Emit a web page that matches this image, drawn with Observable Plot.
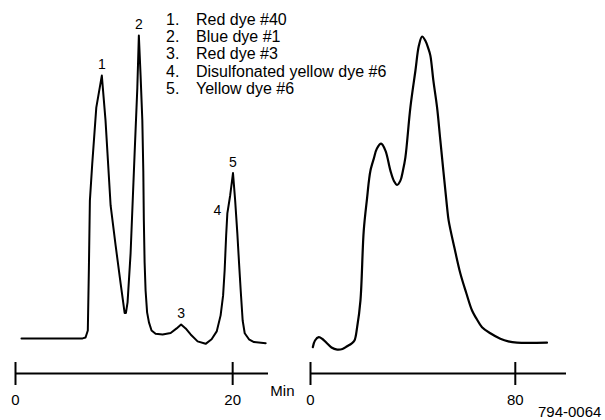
<!DOCTYPE html>
<html>
<head>
<meta charset="utf-8">
<script src="https://cdn.jsdelivr.net/npm/d3@7"></script>
<script src="https://cdn.jsdelivr.net/npm/@observablehq/plot@0.6"></script>
<style>
  html, body { margin: 0; padding: 0; background: #fff; }
  #wrap { position: relative; width: 605px; height: 420px; overflow: hidden; font-family: "Liberation Sans", Arial, sans-serif; color: #000; }
  #left, #right { position: absolute; top: 0; }
  #left { left: 0; }
  #right { left: 300px; }
  #legend { position: absolute; left: 166px; top: 10.7px; font-size: 16px; line-height: 17.3px; }
  #legend .row { display: flex; white-space: nowrap; }
  #legend .num { width: 30px; }
  #caption { position: absolute; left: 538px; top: 404px; font-size: 15px; line-height: 1; white-space: nowrap; }
</style>
</head>
<body>
<div id="wrap">
  <div id="left"></div>
  <div id="right"></div>
  <div id="legend"></div>
  <div id="caption"></div>
</div>
<script>
// ---- Data ----
// Left chromatogram (time in min, relative response, peak 2 = 100)
const leftTime = [0.55, 6.18, 6.45, 6.66, 6.76, 6.85, 7.07, 7.44, 7.95, 8.29, 8.76, 9.22, 9.68, 10.05, 10.17, 10.32, 10.6, 10.97, 11.22, 11.36,
  11.52, 11.68, 11.77, 11.82, 11.89, 11.98, 12.12, 12.29, 12.53, 12.9, 13.55, 14.29, 14.84, 15.25, 15.67, 16.13, 16.77, 17.51, 18.06, 18.53,
  18.89, 19.12, 19.26, 19.4, 19.51, 19.77, 20.03, 20.23, 20.43, 20.6, 20.74, 20.92, 21.11, 21.5, 21.96, 23.04];
const leftSignal = [0, 0, 0.3, 2.6, 23.4, 45.5, 57.8, 76.2, 86.8, 72, 43.9, 30.7, 18.2, 8.4, 8.4, 11.9, 28.1, 61.1, 82.8, 100,
  86.8, 72, 55.4, 38.9, 25.1, 15.8, 8.6, 5.3, 2.6, 1.5, 1.3, 1.8, 3.3, 4.6, 3.3, 1.3, -1.0, -1.8, -0.3, 2.3,
  7.6, 14.2, 22.4, 34, 41.3, 47.2, 54.6, 45.5, 34.7, 24.1, 15.8, 5.9, 1.7, -0.3, -1.2, -1.6];

// Right chromatogram
const rightTime = [0.9, 1.76, 3.24, 4.68, 6.52, 8.2, 10.42, 12.49, 14.32, 16.0, 17.17, 18.22, 19.51, 20.8, 22.13, 22.83, 23.41, 24.7, 25.95, 27.59,
  29.27, 31.22, 32.59, 33.83, 35.12, 36.1, 37.07, 39.02, 40.98, 42.34, 43.59, 44.88, 46.05, 46.83, 48.0, 49.44, 50.73, 53.35, 53.97, 56.2,
  58.54, 60.88, 63.1, 64.78, 67.0, 70.24, 74.15, 77.27, 80.66, 92.37];
const rightSignal = [-2.9, -0.7, 0.4, -0.2, -1.7, -3.0, -3.7, -3.5, -2.6, -1.7, -0.7, 3.7, 12.5, 35.6, 46.6, 52.1, 55.4, 59.3, 62.7, 64.3,
  62.0, 55.4, 52.0, 50.7, 52.1, 55.4, 59.8, 76.3, 88.4, 96.7, 99.7, 98.3, 95.7, 93.4, 85.1, 76.3, 65.3, 43.3, 38.9, 30,
  21.4, 14.9, 9.2, 6.6, 3.7, 1.7, -0.1, -1.0, -1.4, -1.4];

// Peak identification
const peakNumbers = [1, 2, 3, 4, 5];
const peakTimes = [7.95, 11.36, 15.25, 19.51, 20.03];
const peakHeights = [86.8, 100, 4.6, 41.3, 54.6];
const dyeNames = ["Red dye #40", "Blue dye #1", "Red dye #3", "Disulfonated yellow dye #6", "Yellow dye #6"];

// Axis ticks and labels
const leftTicks = [0, 20];
const rightTicks = [0, 80];
const leftXDomain = [0, 23.3];
const rightXDomain = [0, 100];
const yDomain = [-11.6, 111.6];
const unitLabel = "Min";
const figureId = "794-0064";

// ---- Build tables ----
const leftData = leftTime.map((t, i) => ({t, v: leftSignal[i]}));
const rightData = rightTime.map((t, i) => ({t, v: rightSignal[i]}));
const peaks = peakNumbers.map((n, i) => ({n, t: peakTimes[i], v: peakHeights[i]}));
const topPeaks = peaks.filter(d => d.n !== 4);
const shoulderPeaks = peaks.filter(d => d.n === 4);

const font = '"Liberation Sans", Arial, sans-serif';
const common = {
  height: 410,
  marginTop: 0,
  marginBottom: 37,
  y: {domain: yDomain, axis: null},
  style: {fontFamily: font, background: "transparent", overflow: "visible", color: "#000"}
};

function axisMarks(ticks) {
  return [
    Plot.ruleY([yDomain[0]], {stroke: "#000", strokeWidth: 2}),
    Plot.axisX({ticks, tickSize: 23, dy: -11, tickPadding: 9, strokeWidth: 2, fontSize: 15, tickFormat: d => String(d), label: null, stroke: "#000", fill: "#000"})
  ];
}

const left = Plot.plot({
  ...common,
  width: 300,
  marginLeft: 15,
  marginRight: 32,
  x: {domain: leftXDomain},
  marks: [
    ...axisMarks(leftTicks),
    Plot.line(leftData, {x: "t", y: "v", stroke: "#000", strokeWidth: 2, strokeLinejoin: "round"}),
    Plot.text(topPeaks, {x: "t", y: "v", text: "n", dy: -11, fontSize: 14, fill: "#000"}),
    Plot.text(shoulderPeaks, {x: "t", y: "v", text: "n", dx: -6, dy: -3, textAnchor: "end", fontSize: 14, fill: "#000"}),
    Plot.text([unitLabel], {frameAnchor: "bottom-right", dx: 26, dy: 22, textAnchor: "end", fontSize: 15, fill: "#000"})
  ]
});
document.getElementById("left").appendChild(left);

const right = Plot.plot({
  ...common,
  width: 305,
  marginLeft: 10,
  marginRight: 39,
  x: {domain: rightXDomain},
  marks: [
    ...axisMarks(rightTicks),
    Plot.line(rightData, {x: "t", y: "v", stroke: "#000", strokeWidth: 2.2, curve: "catmull-rom"})
  ]
});
document.getElementById("right").appendChild(right);

const legend = document.getElementById("legend");
dyeNames.forEach((name, i) => {
  const row = document.createElement("div");
  row.className = "row";
  const num = document.createElement("span");
  num.className = "num";
  num.textContent = peakNumbers[i] + ".";
  const txt = document.createElement("span");
  txt.textContent = name;
  row.appendChild(num);
  row.appendChild(txt);
  legend.appendChild(row);
});
document.getElementById("caption").textContent = figureId;
</script>
</body>
</html>
